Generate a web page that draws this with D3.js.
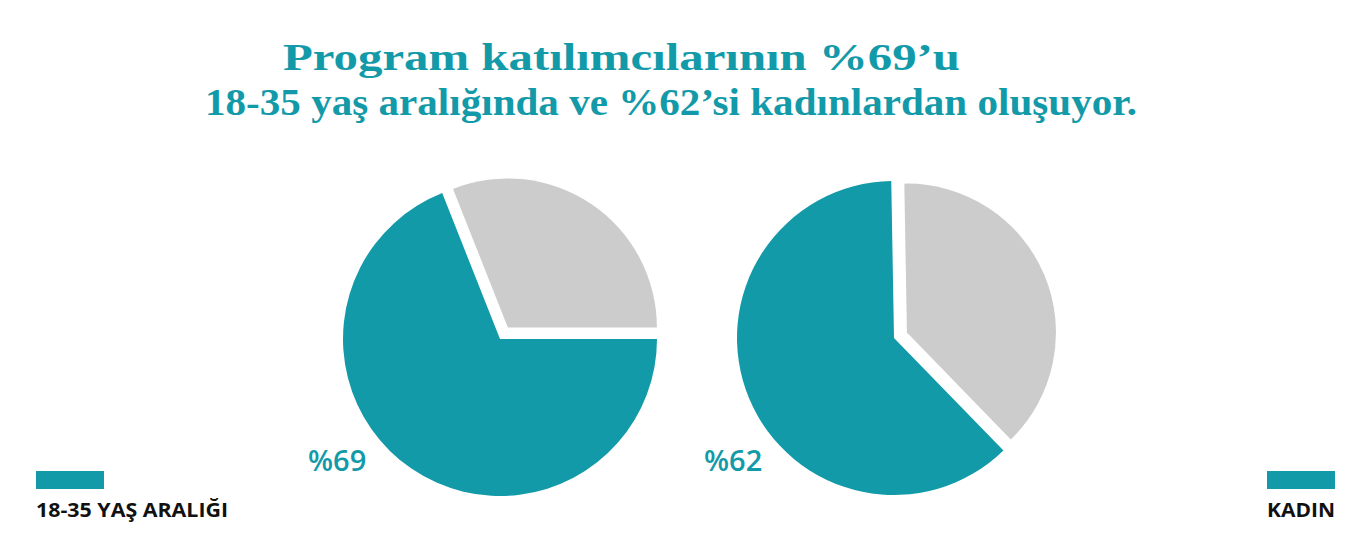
<!DOCTYPE html>
<html>
<head>
<meta charset="utf-8">
<script src="https://cdn.jsdelivr.net/npm/d3@7"></script>
<style>
  html, body { margin: 0; padding: 0; background: #ffffff; }
  svg { display: block; }
</style>
</head>
<body>
<svg id="chart" width="1366" height="550"></svg>
<script>
// ---- data ----
const titleLines = [
  "Program katılımcılarının %69’u",
  "18-35 yaş aralığında ve %62’si kadınlardan oluşuyor."
];
const categories = ["18-35 YAŞ ARALIĞI", "KADIN"];
const shareValues = [69, 62];
const restValues = [31, 38];
const shareLabels = ["%69", "%62"];

// ---- style ----
const TEAL = "#139aa9";
const GRAY = "#cccccc";
const svg = d3.select("#chart");

// title
const titleLayout = [
  { x: 283, y: 70, w: 677 },
  { x: 205, y: 115, w: 932 }
];
svg.selectAll("text.title")
  .data(titleLines)
  .enter().append("text")
  .attr("class", "title")
  .attr("x", (d, i) => titleLayout[i].x)
  .attr("y", (d, i) => titleLayout[i].y)
  .attr("textLength", (d, i) => titleLayout[i].w)
  .attr("lengthAdjust", "spacingAndGlyphs")
  .attr("font-family", "'Liberation Serif', 'DejaVu Serif', serif")
  .attr("font-weight", 700)
  .attr("font-size", 37)
  .attr("fill", TEAL)
  .text(d => d);

// pies
const pieLayout = [
  { cx: 500, cy: 339, start: Math.PI / 2 - 2 * Math.PI * restValues[0] / 100, lx: 308, ly: 471 },
  { cx: 894, cy: 338, start: -1 * Math.PI / 180, lx: 704, ly: 471 }
];
const R = 157, RG = 149, EXPLODE = 14;

categories.forEach((cat, i) => {
  const L = pieLayout[i];
  const data = [
    { key: "rest", value: restValues[i] },
    { key: "share", value: shareValues[i] }
  ];
  const pie = d3.pie().sort(null).value(d => d.value)
    .startAngle(L.start).endAngle(L.start + 2 * Math.PI);
  const arcs = pie(data);
  const g = svg.append("g").attr("transform", `translate(${L.cx},${L.cy})`);
  const arcShare = d3.arc().innerRadius(0).outerRadius(R);
  const arcRest = d3.arc().innerRadius(0).outerRadius(RG);
  g.selectAll("path")
    .data(arcs)
    .enter().append("path")
    .attr("d", d => d.data.key === "rest" ? arcRest(d) : arcShare(d))
    .attr("fill", d => d.data.key === "rest" ? GRAY : TEAL)
    .attr("transform", d => {
      if (d.data.key !== "rest") return null;
      const mid = (d.startAngle + d.endAngle) / 2;
      return `translate(${EXPLODE * Math.sin(mid)},${-EXPLODE * Math.cos(mid)})`;
    });

  svg.append("text")
    .attr("x", L.lx)
    .attr("y", L.ly)
    .attr("font-family", "'Open Sans', sans-serif")
    .attr("font-weight", 600)
    .attr("font-size", 29)
    .attr("fill", TEAL)
    .text(shareLabels[i]);
});

// legends
const legendLayout = [
  { x: 36, anchor: "start", w: 192 },
  { x: 1335, anchor: "end", w: 68 }
];
categories.forEach((cat, i) => {
  const L = legendLayout[i];
  const rx = L.anchor === "start" ? L.x : L.x - 68;
  svg.append("rect")
    .attr("x", rx).attr("y", 471)
    .attr("width", 68).attr("height", 18)
    .attr("fill", TEAL);
  svg.append("text")
    .attr("x", L.anchor === "start" ? L.x : L.x - L.w)
    .attr("y", 517)
    .attr("textLength", L.w)
    .attr("lengthAdjust", "spacingAndGlyphs")
    .attr("font-family", "'Open Sans', sans-serif")
    .attr("font-weight", 700)
    .attr("font-size", 19)
    .attr("fill", "#111111")
    .text(cat);
});
</script>
</body>
</html>
